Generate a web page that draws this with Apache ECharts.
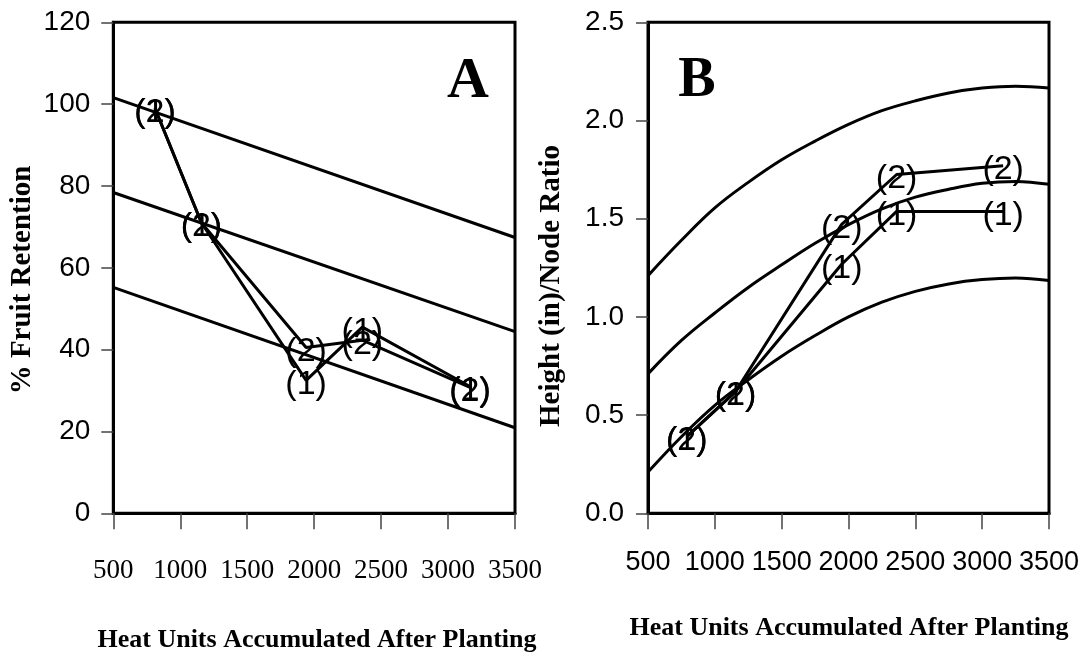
<!DOCTYPE html>
<html>
<head>
<meta charset="utf-8">
<script src="https://cdn.jsdelivr.net/npm/echarts@6/dist/echarts.min.js"></script>
<style>
html,body{margin:0;padding:0;background:#fff;}
#c{width:1086px;height:659px;}
</style>
</head>
<body>
<div id="c"></div>
<script>
// ---- Panel A data ----
var heatA = [811, 1158, 1940, 2360, 3164];
var retention1 = [99, 71, 32.5, 45.5, 31];
var retention2 = [99, 71, 40.5, 42.3, 30.8];
var trendX = [500, 3500];
var retentionUpper = [101.6, 67.4];
var retentionMid = [78.4, 44.4];
var retentionLower = [55.2, 20.9];
var ticksA = [0, 20, 40, 60, 80, 100, 120];

// ---- Panel B data ----
var heatB = [790, 1155, 1949, 2360, 3157];
var ratio1 = [0.39, 0.62, 1.268, 1.537, 1.537];
var ratio2 = [0.39, 0.62, 1.471, 1.725, 1.77];
var curveX = [500, 750, 1000, 1250, 1500, 1750, 2000, 2250, 2500, 2750, 3000, 3250, 3500];
var ratioUpper = [1.21, 1.39, 1.555, 1.685, 1.80, 1.895, 1.98, 2.05, 2.10, 2.14, 2.165, 2.175, 2.165];
var ratioMid = [0.71, 0.88, 1.02, 1.15, 1.265, 1.375, 1.47, 1.55, 1.61, 1.65, 1.68, 1.69, 1.675];
var ratioLower = [0.21, 0.39, 0.55, 0.68, 0.80, 0.905, 1.0, 1.075, 1.13, 1.168, 1.19, 1.198, 1.185];
var ticksB = [0.0, 0.5, 1.0, 1.5, 2.0, 2.5];

var xTicks = [500, 1000, 1500, 2000, 2500, 3000, 3500];

function zip(xs, ys) { return xs.map(function (x, i) { return [x, ys[i]]; }); }

var SANS = '"Liberation Sans", Arial, sans-serif';
var SERIF = '"Liberation Serif", "Times New Roman", serif';

function trend(xIdx, yIdx, xs, ys, smooth) {
  return {
    type: 'line', xAxisIndex: xIdx, yAxisIndex: yIdx,
    data: zip(xs, ys), symbol: 'none', smooth: smooth ? 0.4 : false,
    lineStyle: { color: '#000', width: 3 }, silent: true, z: 2
  };
}
function obs(xIdx, yIdx, xs, ys, tag) {
  return {
    type: 'line', xAxisIndex: xIdx, yAxisIndex: yIdx,
    data: zip(xs, ys), symbol: 'circle', symbolSize: 2, showSymbol: true,
    itemStyle: { color: 'rgba(0,0,0,0)' },
    lineStyle: { color: '#000', width: 3 },
    label: {
      show: true, position: 'inside', offset: [0, 4],
      formatter: tag, color: '#000', fontFamily: SANS, fontSize: 34
    },
    silent: true, z: 3
  };
}

var chart = echarts.init(document.getElementById('c'), null, { renderer: 'canvas' });

var axisCommonX = {
  type: 'value', min: 500, max: 3500, interval: 500,
  axisLine: { show: true, onZero: false, lineStyle: { color: '#000', width: 3 } },
  axisTick: { show: true, length: 16, lineStyle: { color: '#444', width: 1.5 } },
  splitLine: { show: false }
};

var option = {
  animation: false,
  backgroundColor: '#fff',
  grid: [
    { left: 113.3, right: 571, top: 22.3, bottom: 145.7, show: true, borderColor: '#000', borderWidth: 3 },
    { left: 648, right: 37, top: 22.3, bottom: 145.7, show: true, borderColor: '#000', borderWidth: 3 }
  ],
  xAxis: [
    Object.assign({}, axisCommonX, {
      gridIndex: 0,
      axisLabel: { margin: 44, fontFamily: SERIF, fontSize: 27, color: '#000',
        showMinLabel: true, showMaxLabel: true, hideOverlap: false,
        formatter: function (v) { return xTicks.indexOf(v) >= 0 ? String(v) : ''; } }
    }),
    Object.assign({}, axisCommonX, {
      gridIndex: 1,
      axisLabel: { margin: 36, fontFamily: SANS, fontSize: 27, color: '#000',
        showMinLabel: true, showMaxLabel: true, hideOverlap: false,
        formatter: function (v) { return xTicks.indexOf(v) >= 0 ? String(v) : ''; } }
    })
  ],
  yAxis: [
    {
      type: 'value', gridIndex: 0, min: ticksA[0], max: ticksA[ticksA.length - 1], interval: 20,
      axisLine: { show: true, onZero: false, lineStyle: { color: '#000', width: 3 } },
      axisTick: { show: true, length: 12, lineStyle: { color: '#444', width: 1.5 } },
      axisLabel: { margin: 23, fontFamily: SANS, fontSize: 28, color: '#000' },
      splitLine: { show: false }
    },
    {
      type: 'value', gridIndex: 1, min: ticksB[0], max: ticksB[ticksB.length - 1], interval: 0.5,
      axisLine: { show: true, onZero: false, lineStyle: { color: '#000', width: 3 } },
      axisTick: { show: true, length: 12, lineStyle: { color: '#444', width: 1.5 } },
      axisLabel: { margin: 24, fontFamily: SANS, fontSize: 28, color: '#000',
        formatter: function (v) { return v.toFixed(1); } },
      splitLine: { show: false }
    }
  ],
  series: [
    trend(0, 0, trendX, retentionUpper),
    trend(0, 0, trendX, retentionMid),
    trend(0, 0, trendX, retentionLower),
    obs(0, 0, heatA, retention1, '(1)'),
    obs(0, 0, heatA, retention2, '(2)'),
    trend(1, 1, curveX, ratioUpper, true),
    trend(1, 1, curveX, ratioMid, true),
    trend(1, 1, curveX, ratioLower, true),
    obs(1, 1, heatB, ratio1, '(1)'),
    obs(1, 1, heatB, ratio2, '(2)')
  ],
  graphic: [
    { type: 'text', x: 468, y: 82, style: { text: 'A', fontFamily: SERIF, fontWeight: 'bold', fontSize: 58, fill: '#000', align: 'center', verticalAlign: 'middle' } },
    { type: 'text', x: 697, y: 82, style: { text: 'B', fontFamily: SERIF, fontWeight: 'bold', fontSize: 56, fill: '#000', align: 'center', verticalAlign: 'middle' } },
    { type: 'text', x: 317, y: 640, style: { text: 'Heat Units Accumulated After Planting', fontFamily: SERIF, fontWeight: 'bold', fontSize: 26, fill: '#000', align: 'center', verticalAlign: 'middle' } },
    { type: 'text', x: 849, y: 628, style: { text: 'Heat Units Accumulated After Planting', fontFamily: SERIF, fontWeight: 'bold', fontSize: 26, fill: '#000', align: 'center', verticalAlign: 'middle' } },
    { type: 'text', x: 22.5, y: 280, rotation: Math.PI / 2, style: { text: '% Fruit Retention', fontFamily: SERIF, fontWeight: 'bold', fontSize: 29, fill: '#000', align: 'center', verticalAlign: 'middle' } },
    { type: 'text', x: 552, y: 286, rotation: Math.PI / 2, style: { text: 'Height (in)/Node Ratio', fontFamily: SERIF, fontWeight: 'bold', fontSize: 29, fill: '#000', align: 'center', verticalAlign: 'middle' } }
  ]
};
chart.setOption(option);
</script>
</body>
</html>
